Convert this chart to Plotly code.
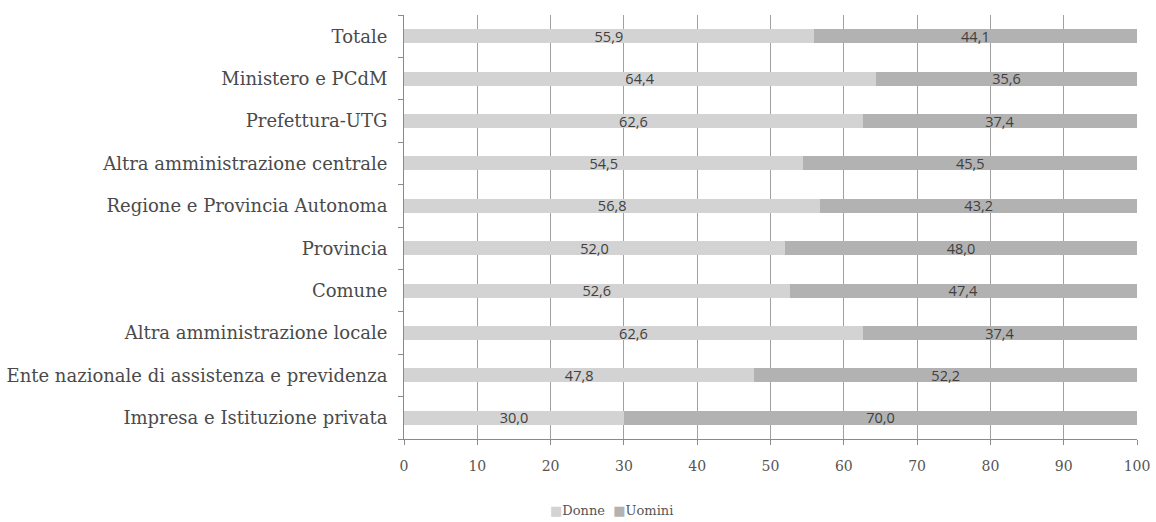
import plotly.graph_objects as go

categories = [
    "Totale",
    "Ministero e PCdM",
    "Prefettura-UTG",
    "Altra amministrazione centrale",
    "Regione e Provincia Autonoma",
    "Provincia",
    "Comune",
    "Altra amministrazione locale",
    "Ente nazionale di assistenza e previdenza",
    "Impresa e Istituzione privata",
]
donne = [55.9, 64.4, 62.6, 54.5, 56.8, 52.0, 52.6, 62.6, 47.8, 30.0]
uomini = [44.1, 35.6, 37.4, 45.5, 43.2, 48.0, 47.4, 37.4, 52.2, 70.0]
x_ticks = [0, 10, 20, 30, 40, 50, 60, 70, 80, 90, 100]

series = [("Donne", donne, "#d3d3d3"), ("Uomini", uomini, "#b2b2b2")]


def fmt(v):
    return f"{v:.1f}".replace(".", ",")


fig = go.Figure()
for name, vals, color in series:
    fig.add_trace(go.Bar(
        name=name,
        y=categories,
        x=vals,
        orientation="h",
        marker=dict(color=color, line=dict(width=0)),
        width=0.33,
        text=[fmt(v) for v in vals],
        textposition="inside",
        insidetextanchor="middle",
        textangle=0,
        constraintext="none",
        cliponaxis=False,
        textfont=dict(family="Open Sans, Liberation Sans, sans-serif", size=14.5, color="#404040"),
        showlegend=False,
    ))

# legend row drawn as text with coloured squares
legend_text = "  ".join(
    f"<span style='color:{c}'>■</span>{n}" for n, _, c in series
)
fig.add_annotation(
    x=0.283, y=-0.168, xref="paper", yref="paper",
    xanchor="center", yanchor="middle",
    text=legend_text, showarrow=False,
    font=dict(family="DejaVu Serif, serif", size=13, color="#555555"),
)

fig.update_layout(
    barmode="stack",
    width=1156,
    height=522,
    margin=dict(l=404, r=19, t=15, b=83),
    paper_bgcolor="white",
    plot_bgcolor="white",
    showlegend=False,
)

fig.update_xaxes(
    range=[0, 100],
    tickvals=x_ticks,
    ticktext=[str(t) for t in x_ticks],
    showgrid=True,
    gridcolor="#a0a0a0",
    gridwidth=1,
    showline=True,
    linecolor="#8a8a8a",
    linewidth=1,
    ticks="outside",
    ticklen=5,
    tickcolor="#8a8a8a",
    ticklabelstandoff=9,
    zeroline=False,
    automargin=False,
    tickfont=dict(family="DejaVu Serif, serif", size=14, color="#555555"),
)

fig.update_yaxes(
    categoryorder="array",
    categoryarray=categories[::-1],
    showline=True,
    linecolor="#8a8a8a",
    linewidth=1,
    ticks="outside",
    tickson="boundaries",
    ticklen=5,
    tickcolor="#8a8a8a",
    showgrid=False,
    ticklabelstandoff=12,
    automargin=False,
    tickfont=dict(family="DejaVu Serif, serif", size=18, color="#4a4a4a"),
)

fig.write_html("out.html")
